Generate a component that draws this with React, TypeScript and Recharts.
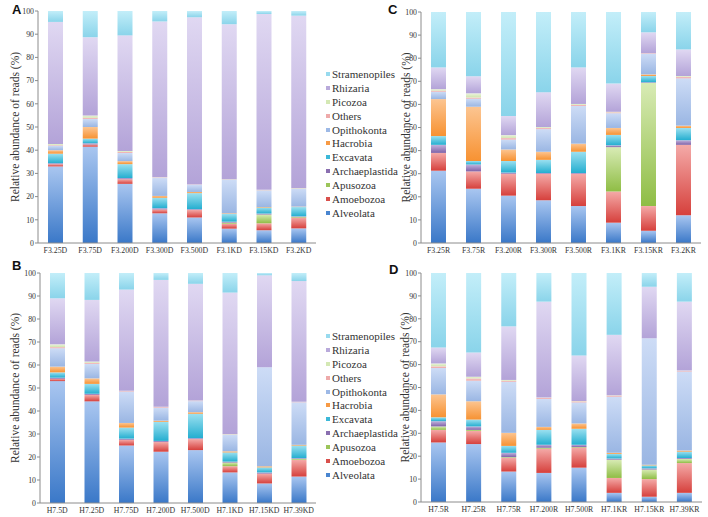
import React from 'react';
import { BarChart, Bar, XAxis, YAxis, Legend } from 'recharts';

const SERIES = ['Alveolata', 'Amoebozoa', 'Apusozoa', 'Archaeplastida', 'Excavata', 'Hacrobia', 'Opithokonta', 'Others', 'Picozoa', 'Rhizaria', 'Stramenopiles'];
const COLOR_TOP = ['#a9c6f0', '#f4aaa8', '#d8ebb5', '#c3b3dd', '#9be0f0', '#fcc591', '#cddcf6', '#f7cfcf', '#ecf4dc', '#e0d8f2', '#c3eef9'];
const COLOR_BOTTOM = ['#3a78c8', '#d6403c', '#8fbd45', '#7f62a8', '#24aed0', '#f79232', '#9ab6e3', '#eba3a3', '#d0e4ae', '#b3a3d8', '#8ad4ea'];
const COLOR_KEY = ['#4a86d0', '#d9504c', '#9cc55a', '#8a6fb0', '#3cb8d8', '#f79a45', '#9db9e6', '#eeaaaa', '#d4e8b4', '#b9aadb', '#98daee'];

const yTicks = [0, 10, 20, 30, 40, 50, 60, 70, 80, 90, 100];

// Panel A
const catsA = ['F3.25D', 'F3.75D', 'F3.200D', 'F3.300D', 'F3.500D', 'F3.1KD', 'F3.15KD', 'F3.2KD'];
const aAlveolata = [33, 41.5, 25.5, 12.8, 11, 6.2, 5.5, 6.3];
const aAmoebozoa = [1, 1, 2, 1.7, 3.3, 2.1, 3, 4.7];
const aApusozoa = [0, 0, 0, 0, 0, 0.5, 3.8, 0.3];
const aArchaeplastida = [0.4, 0.5, 0.5, 0.5, 0.3, 0.4, 0.4, 0.2];
const aExcavata = [4.1, 2, 6, 4.5, 6.9, 3.3, 2.6, 4];
const aHacrobia = [1.5, 5, 1.3, 0.8, 0.5, 0.3, 0.2, 0.2];
const aOpithokonta = [2, 3.5, 3.5, 7.7, 3, 14.5, 7.2, 7.8];
const aOthers = [0.2, 0.5, 0.5, 0.2, 0.1, 0.1, 0.1, 0.1];
const aPicozoa = [0.5, 1, 0.4, 0.1, 0.1, 0.1, 0.1, 0.1];
const aRhizaria = [52.6, 33.7, 49.8, 67.2, 72.1, 66.8, 75.8, 74.3];
const aStramenopiles = [4.7, 11.3, 10.5, 4.5, 2.7, 5.7, 1.3, 2];

// Panel B
const catsB = ['H7.5D', 'H7.25D', 'H7.75D', 'H7.200D', 'H7.500D', 'H7.1KD', 'H7.15KD', 'H7.39KD'];
const bAlveolata = [53, 44.2, 25, 22.3, 23, 13.3, 8.5, 11.5];
const bAmoebozoa = [1, 2.8, 2.5, 4.2, 4.8, 2.7, 4.3, 7.3];
const bApusozoa = [0, 0, 0, 0, 0, 1.6, 0, 0.4];
const bArchaeplastida = [0.5, 0.5, 0.5, 0.5, 0.4, 0.4, 0.5, 0.3];
const bExcavata = [2.3, 4.3, 4.8, 8.3, 10.6, 4, 2.2, 5.5];
const bHacrobia = [2.5, 2.4, 2, 0.5, 0.7, 0.5, 0.5, 0.3];
const bOpithokonta = [8, 6.3, 13.7, 5.7, 4.8, 7.3, 43, 18.5];
const bOthers = [0.5, 0.5, 0.2, 0.3, 0.2, 0.1, 0, 0.1];
const bPicozoa = [1.2, 0.5, 0.1, 0.1, 0.1, 0.1, 0, 0.1];
const bRhizaria = [20, 26.8, 44, 55.1, 50.7, 61.5, 40, 52.5];
const bStramenopiles = [11, 11.7, 7.2, 3, 4.7, 8.5, 1, 3.5];

// Panel C
const catsC = ['F3.25R', 'F3.75R', 'F3.200R', 'F3.300R', 'F3.500R', 'F3.1KR', 'F3.15KR', 'F3.2KR'];
const cAlveolata = [31.3, 23.5, 20.5, 18.5, 16, 8.8, 5.3, 12];
const cAmoebozoa = [7.7, 7.5, 9.5, 11.5, 14, 13.5, 10.7, 30.5];
const cApusozoa = [0, 0, 0, 0, 0, 19.2, 53.3, 0];
const cArchaeplastida = [3.5, 3, 0.5, 0.3, 0.3, 0.8, 0.3, 2];
const cExcavata = [3.8, 1.5, 5, 5.7, 9.2, 4.5, 2.7, 5.3];
const cHacrobia = [16, 23.5, 5, 3.5, 3.5, 3, 0.7, 1];
const cOpithokonta = [3.2, 3.5, 4.3, 9.8, 16.3, 6.4, 9, 20.5];
const cOthers = [0.5, 0.5, 0.7, 0.5, 0.5, 0.4, 0.2, 0.7];
const cPicozoa = [0.6, 1.8, 1.2, 0.4, 0.4, 0.2, 0, 0.3];
const cRhizaria = [9.4, 7.4, 8.3, 15.1, 15.8, 12.2, 9, 11.5];
const cStramenopiles = [24, 27.8, 45, 34.7, 24, 31, 8.8, 16.2];

// Panel D
const catsD = ['H7.5R', 'H7.25R', 'H7.75R', 'H7.200R', 'H7.500R', 'H7.1KR', 'H7.15KR', 'H7.39KR'];
const dAlveolata = [26, 25.3, 13.3, 12.7, 15, 4, 2.3, 4];
const dAmoebozoa = [5.5, 5.7, 6, 10.6, 8.8, 6.5, 7.7, 13];
const dApusozoa = [1.5, 0.5, 0.3, 0.4, 0.2, 8, 4.2, 1.8];
const dArchaeplastida = [2.3, 1.5, 1.9, 1.3, 1, 0.5, 0.5, 0.4];
const dExcavata = [1.7, 3, 3, 6.5, 7, 2, 1.3, 2.8];
const dHacrobia = [10, 8, 5.7, 1.3, 2.3, 0.5, 0.3, 0.5];
const dOpithokonta = [11.5, 9, 22.3, 12.2, 9.2, 24.5, 55.2, 34.5];
const dOthers = [0.8, 1, 0.5, 0.5, 0.5, 0.5, 0, 0.3];
const dPicozoa = [1.2, 0.7, 0.3, 0.1, 0.1, 0.1, 0, 0.1];
const dRhizaria = [7, 10.6, 23.4, 41.9, 19.9, 26.4, 22.5, 30.1];
const dStramenopiles = [32.5, 34.7, 23.3, 12.5, 36, 27, 6, 12.5];

const valuesA = [aAlveolata, aAmoebozoa, aApusozoa, aArchaeplastida, aExcavata, aHacrobia, aOpithokonta, aOthers, aPicozoa, aRhizaria, aStramenopiles];
const valuesB = [bAlveolata, bAmoebozoa, bApusozoa, bArchaeplastida, bExcavata, bHacrobia, bOpithokonta, bOthers, bPicozoa, bRhizaria, bStramenopiles];
const valuesC = [cAlveolata, cAmoebozoa, cApusozoa, cArchaeplastida, cExcavata, cHacrobia, cOpithokonta, cOthers, cPicozoa, cRhizaria, cStramenopiles];
const valuesD = [dAlveolata, dAmoebozoa, dApusozoa, dArchaeplastida, dExcavata, dHacrobia, dOpithokonta, dOthers, dPicozoa, dRhizaria, dStramenopiles];

const Y_LABEL = 'Relative abundance of reads (%)';
const SERIF = 'Liberation Serif, serif';
const SANS = 'Liberation Sans, Arial, sans-serif';
const AXIS_COLOR = '#8c8c8c';

function buildRows(cats: string[], values: number[][]) {
  return cats.map((c, i) => {
    const row: Record<string, any> = { cat: c };
    SERIES.forEach((s, j) => {
      row[s] = values[j][i];
    });
    return row;
  });
}

function LegendList() {
  const items = SERIES.map((s, i) => ({ s, i })).reverse();
  return (
    <div style={{ fontFamily: SERIF, fontSize: 11, color: '#333' }}>
      {items.map(({ s, i }) => (
        <div key={s} style={{ height: 13.9, display: 'flex', alignItems: 'center', whiteSpace: 'nowrap' }}>
          <span style={{ display: 'inline-block', width: 4, height: 4, background: COLOR_KEY[i], marginRight: 2 }} />
          <span>{s}</span>
        </div>
      ))}
    </div>
  );
}

type PanelProps = {
  id: string;
  letter: string;
  cats: string[];
  values: number[][];
  left: number;
  top: number;
  width: number;
  height: number;
  margin: { top: number; right: number; bottom: number; left: number };
  yAxisWidth: number;
  xAxisHeight: number;
  labelX: number;
  legend: boolean;
  letterLeft: number;
  letterTop: number;
};

function Panel(p: PanelProps) {
  const data = buildRows(p.cats, p.values);
  const plotTop = p.margin.top;
  const plotBottom = p.height - p.margin.bottom - p.xAxisHeight;
  const labelY = (plotTop + plotBottom) / 2;
  return (
    <>
      <div
        style={{
          position: 'absolute',
          left: p.letterLeft,
          top: p.letterTop,
          fontFamily: SANS,
          fontWeight: 'bold',
          fontSize: 13,
          lineHeight: '13px',
          color: '#111',
        }}
      >
        {p.letter}
      </div>
      <div style={{ position: 'absolute', left: p.left, top: p.top }}>
        <BarChart width={p.width} height={p.height} data={data} margin={p.margin} barSize={15}>
          <defs>
            {SERIES.map((s, i) => (
              <linearGradient key={s} id={`g-${p.id}-${i}`} x1="0" y1="0" x2="0" y2="1">
                <stop offset="0%" stopColor={COLOR_TOP[i]} />
                <stop offset="100%" stopColor={COLOR_BOTTOM[i]} />
              </linearGradient>
            ))}
          </defs>
          <XAxis
            dataKey="cat"
            height={p.xAxisHeight}
            interval={0}
            stroke={AXIS_COLOR}
            tickLine={false}
            tickSize={3}
            tickMargin={1}
            tick={{ fontSize: 7.8, fill: '#333', fontFamily: SERIF }}
          />
          <YAxis
            width={p.yAxisWidth}
            domain={[0, 100]}
            ticks={yTicks}
            interval={0}
            allowDataOverflow
            stroke={AXIS_COLOR}
            tickSize={3}
            tickMargin={1}
            tick={{ fontSize: 7.8, fill: '#333', fontFamily: SERIF }}
            label={{
              content: () => (
                <text
                  x={p.labelX}
                  y={labelY}
                  transform={`rotate(-90 ${p.labelX} ${labelY})`}
                  textAnchor="middle"
                  dominantBaseline="central"
                  fontFamily={SERIF}
                  fontSize={11.5}
                  fill="#333"
                >
                  {Y_LABEL}
                </text>
              ),
            }}
          />
          {p.legend && (
            <Legend
              layout="vertical"
              align="center"
              verticalAlign="middle"
              content={() => <LegendList />}
              wrapperStyle={{ position: 'absolute', left: 326, top: 67, width: 95, height: 160 }}
            />
          )}
          {SERIES.map((s, i) => (
            <Bar key={s} dataKey={s} stackId="s" fill={`url(#g-${p.id}-${i})`} isAnimationActive={false} />
          ))}
        </BarChart>
      </div>
    </>
  );
}

export default function App() {
  return (
    <div style={{ position: 'absolute', left: 0, top: 0, width: 708, height: 517, overflow: 'hidden', background: '#fff' }}>
      <Panel
        id="A" letter="A" cats={catsA} values={valuesA}
        left={0} top={0} width={430} height={262}
        margin={{ top: 11, right: 114, bottom: 0, left: 0 }}
        yAxisWidth={38} xAxisHeight={19} labelX={15} legend
        letterLeft={12} letterTop={3}
      />
      <Panel
        id="B" letter="B" cats={catsB} values={valuesB}
        left={0} top={262} width={430} height={255}
        margin={{ top: 11, right: 114, bottom: 0, left: 0 }}
        yAxisWidth={40} xAxisHeight={14} labelX={15} legend
        letterLeft={12} letterTop={259}
      />
      <Panel
        id="C" letter="C" cats={catsC} values={valuesC}
        left={354} top={0} width={354} height={262}
        margin={{ top: 12, right: 7, bottom: 0, left: 0 }}
        yAxisWidth={67} xAxisHeight={19} labelX={52} legend={false}
        letterLeft={388} letterTop={3}
      />
      <Panel
        id="D" letter="D" cats={catsD} values={valuesD}
        left={354} top={262} width={354} height={255}
        margin={{ top: 11, right: 6, bottom: 0, left: 0 }}
        yAxisWidth={67} xAxisHeight={15} labelX={51} legend={false}
        letterLeft={389} letterTop={263}
      />
    </div>
  );
}
